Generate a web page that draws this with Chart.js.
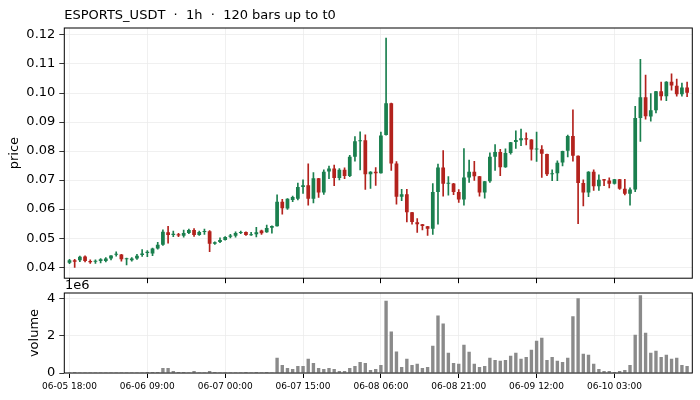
<!DOCTYPE html>
<html>
<head>
<meta charset="utf-8">
<title>ESPORTS_USDT 1h</title>
<script src="https://cdn.jsdelivr.net/npm/chart.js@4.4.1/dist/chart.umd.min.js"></script>
<style>
body { margin: 0; background: #fff; }
#wrap { position: relative; width: 700px; height: 400px; }
canvas { position: absolute; left: 0; }
#priceCanvas { top: 0; }
#volCanvas { top: 270px; }
</style>
</head>
<body>
<div id="wrap">
<canvas id="priceCanvas" width="700" height="290"></canvas>
<canvas id="volCanvas" width="700" height="130"></canvas>
</div>
<script>
var chartTitle = "ESPORTS_USDT  \u00b7  1h  \u00b7  120 bars up to t0";

// x ticks every 15 bars
var xTickPos = [0, 15, 30, 45, 60, 75, 90, 105];
var xTickLabels = ["06-05 18:00", "06-06 09:00", "06-07 00:00", "06-07 15:00",
                   "06-08 06:00", "06-08 21:00", "06-09 12:00", "06-10 03:00"];
var priceTicks = [0.04, 0.05, 0.06, 0.07, 0.08, 0.09, 0.10, 0.11, 0.12];
var volTicks = [0, 2e6, 4e6];

var opens = [
  0.0415, 0.0424, 0.0424, 0.0437, 0.0421, 0.0419, 0.0421, 0.0421, 0.0430, 0.0443,
  0.0444, 0.0427, 0.0424, 0.0430, 0.0442, 0.0449, 0.0447, 0.0464, 0.0477, 0.0520,
  0.0511, 0.0513, 0.0508, 0.0518, 0.0528, 0.0511, 0.0521, 0.0524, 0.0481, 0.0487,
  0.0494, 0.0505, 0.0508, 0.0518, 0.0521, 0.0510, 0.0513, 0.0526, 0.0520, 0.0536,
  0.0541, 0.0625, 0.0602, 0.0631, 0.0636, 0.0676, 0.0682, 0.0636, 0.0706, 0.0657,
  0.0730, 0.0740, 0.0707, 0.0736, 0.0714, 0.0780, 0.0834, 0.0837, 0.0720, 0.0729,
  0.0724, 0.0855, 0.0965, 0.0757, 0.0643, 0.0651, 0.0589, 0.0555, 0.0548, 0.0541,
  0.0532, 0.0659, 0.0743, 0.0687, 0.0688, 0.0659, 0.0633, 0.0709, 0.0729, 0.0713,
  0.0657, 0.0696, 0.0780, 0.0797, 0.0744, 0.0793, 0.0831, 0.0837, 0.0844, 0.0840,
  0.0805, 0.0806, 0.0790, 0.0720, 0.0724, 0.0761, 0.0801, 0.0852, 0.0784, 0.0690,
  0.0657, 0.0729, 0.0679, 0.0703, 0.0699, 0.0687, 0.0703, 0.0670, 0.0653, 0.0668,
  0.0914, 0.0985, 0.0919, 0.0941, 0.1006, 0.0989, 0.1039, 0.1025, 0.0996, 0.1019
];
var highs = [
  0.0427, 0.0427, 0.0438, 0.0439, 0.0425, 0.0425, 0.0430, 0.0433, 0.0440, 0.0453,
  0.0444, 0.0431, 0.0433, 0.0444, 0.0461, 0.0457, 0.0466, 0.0486, 0.0529, 0.0541,
  0.0524, 0.0517, 0.0528, 0.0531, 0.0533, 0.0524, 0.0531, 0.0526, 0.0487, 0.0501,
  0.0505, 0.0513, 0.0522, 0.0524, 0.0522, 0.0520, 0.0537, 0.0528, 0.0545, 0.0542,
  0.0649, 0.0634, 0.0636, 0.0645, 0.0690, 0.0701, 0.0756, 0.0726, 0.0706, 0.0735,
  0.0748, 0.0752, 0.0740, 0.0742, 0.0785, 0.0850, 0.0866, 0.0856, 0.0729, 0.0743,
  0.0865, 0.1189, 0.0965, 0.0764, 0.0668, 0.0668, 0.0589, 0.0567, 0.0548, 0.0541,
  0.0688, 0.0755, 0.0802, 0.0712, 0.0689, 0.0667, 0.0809, 0.0769, 0.0765, 0.0713,
  0.0696, 0.0794, 0.0822, 0.0806, 0.0808, 0.0830, 0.0870, 0.0876, 0.0863, 0.0840,
  0.0865, 0.0819, 0.0790, 0.0735, 0.0766, 0.0800, 0.0855, 0.0942, 0.0784, 0.0701,
  0.0729, 0.0735, 0.0718, 0.0703, 0.0708, 0.0703, 0.0703, 0.0703, 0.0673, 0.0954,
  0.1116, 0.1062, 0.0998, 0.1006, 0.1038, 0.1039, 0.1066, 0.1048, 0.1034, 0.1038
];
var lows = [
  0.0412, 0.0399, 0.0419, 0.0418, 0.0413, 0.0413, 0.0415, 0.0418, 0.0425, 0.0438,
  0.0421, 0.0408, 0.0421, 0.0427, 0.0437, 0.0436, 0.0440, 0.0462, 0.0475, 0.0483,
  0.0505, 0.0505, 0.0503, 0.0515, 0.0506, 0.0509, 0.0513, 0.0453, 0.0478, 0.0484,
  0.0493, 0.0501, 0.0503, 0.0515, 0.0509, 0.0509, 0.0504, 0.0513, 0.0520, 0.0517,
  0.0541, 0.0583, 0.0599, 0.0626, 0.0632, 0.0654, 0.0614, 0.0621, 0.0640, 0.0651,
  0.0705, 0.0681, 0.0701, 0.0705, 0.0712, 0.0765, 0.0735, 0.0668, 0.0671, 0.0682,
  0.0724, 0.0855, 0.0733, 0.0617, 0.0629, 0.0556, 0.0548, 0.0520, 0.0528, 0.0509,
  0.0513, 0.0548, 0.0645, 0.0648, 0.0650, 0.0623, 0.0614, 0.0692, 0.0699, 0.0645,
  0.0638, 0.0692, 0.0733, 0.0715, 0.0744, 0.0789, 0.0809, 0.0819, 0.0821, 0.0769,
  0.0764, 0.0709, 0.0715, 0.0698, 0.0698, 0.0749, 0.0780, 0.0765, 0.0550, 0.0611,
  0.0643, 0.0664, 0.0664, 0.0681, 0.0673, 0.0686, 0.0668, 0.0649, 0.0614, 0.0660,
  0.0833, 0.0910, 0.0903, 0.0931, 0.0975, 0.0974, 0.1010, 0.0989, 0.0989, 0.0987
];
var closes = [
  0.0424, 0.0419, 0.0436, 0.0421, 0.0417, 0.0421, 0.0427, 0.0430, 0.0440, 0.0446,
  0.0427, 0.0430, 0.0430, 0.0439, 0.0447, 0.0453, 0.0464, 0.0477, 0.0522, 0.0511,
  0.0515, 0.0509, 0.0518, 0.0528, 0.0511, 0.0521, 0.0524, 0.0481, 0.0486, 0.0494,
  0.0504, 0.0509, 0.0518, 0.0521, 0.0511, 0.0513, 0.0520, 0.0517, 0.0535, 0.0542,
  0.0625, 0.0603, 0.0636, 0.0642, 0.0676, 0.0682, 0.0636, 0.0706, 0.0657, 0.0729,
  0.0740, 0.0707, 0.0736, 0.0714, 0.0780, 0.0834, 0.0837, 0.0720, 0.0729, 0.0724,
  0.0854, 0.0965, 0.0757, 0.0643, 0.0651, 0.0589, 0.0556, 0.0548, 0.0542, 0.0532,
  0.0659, 0.0743, 0.0687, 0.0689, 0.0659, 0.0633, 0.0709, 0.0729, 0.0713, 0.0657,
  0.0696, 0.0780, 0.0797, 0.0744, 0.0793, 0.0830, 0.0838, 0.0844, 0.0840, 0.0805,
  0.0808, 0.0791, 0.0720, 0.0724, 0.0760, 0.0800, 0.0852, 0.0784, 0.0690, 0.0657,
  0.0729, 0.0679, 0.0701, 0.0699, 0.0687, 0.0703, 0.0670, 0.0653, 0.0668, 0.0914,
  0.0985, 0.0920, 0.0941, 0.1006, 0.0989, 0.1039, 0.1026, 0.0996, 0.1019, 0.1001
];
var volumes = [
  0.01e6, 0.05e6, 0.01e6, 0.04e6, 0.01e6, 0.01e6, 0.01e6, 0.01e6, 0.01e6, 0.04e6,
  0.04e6, 0.01e6, 0.01e6, 0.01e6, 0.04e6, 0.05e6, 0.05e6, 0.05e6, 0.27e6, 0.27e6,
  0.11e6, 0.05e6, 0.05e6, 0.01e6, 0.11e6, 0.01e6, 0.01e6, 0.11e6, 0.05e6, 0.01e6,
  0.01e6, 0.01e6, 0.01e6, 0.01e6, 0.05e6, 0.01e6, 0.05e6, 0.01e6, 0.05e6, 0.01e6,
  0.81e6, 0.43e6, 0.27e6, 0.22e6, 0.38e6, 0.38e6, 0.76e6, 0.54e6, 0.27e6, 0.22e6,
  0.27e6, 0.22e6, 0.11e6, 0.11e6, 0.27e6, 0.38e6, 0.59e6, 0.54e6, 0.16e6, 0.22e6,
  0.43e6, 3.86e6, 2.22e6, 1.15e6, 0.32e6, 0.76e6, 0.43e6, 0.49e6, 0.27e6, 0.32e6,
  1.46e6, 3.08e6, 2.65e6, 1.08e6, 0.54e6, 0.49e6, 1.51e6, 1.14e6, 0.49e6, 0.32e6,
  0.38e6, 0.81e6, 0.70e6, 0.65e6, 0.70e6, 0.92e6, 1.08e6, 0.76e6, 0.86e6, 1.24e6,
  1.73e6, 1.89e6, 0.70e6, 0.86e6, 0.65e6, 0.59e6, 0.81e6, 3.03e6, 4.00e6, 1.03e6,
  0.97e6, 0.49e6, 0.22e6, 0.11e6, 0.11e6, 0.05e6, 0.11e6, 0.16e6, 0.43e6, 2.05e6,
  4.16e6, 2.16e6, 1.08e6, 1.19e6, 0.86e6, 0.97e6, 0.76e6, 0.81e6, 0.43e6, 0.38e6
];

var GREEN = "#1a7f4e";
var RED = "#b3221d";
var VOLCOLOR = "#8a8a8a";
var GRIDCOLOR = "#ececec";
var FONT = "'DejaVu Sans', sans-serif";

Chart.defaults.font.family = FONT;
Chart.defaults.color = "#000";

function candleColor(ctx) {
    var i = ctx.dataIndex;
    return closes[i] >= opens[i] ? GREEN : RED;
}

function xScale(showLabels, height) {
    return {
        type: "linear", min: -1, max: 120, offset: false,
        grid: { color: GRIDCOLOR, lineWidth: 0.8, offset: false, tickColor: "#000", tickLength: 5, tickWidth: 1 },
        border: { display: false },
        ticks: {
            display: showLabels, autoSkip: false, maxRotation: 0, padding: 3, font: { size: 9 },
            callback: function(v) {
                var k = xTickPos.indexOf(v);
                return k < 0 ? "" : xTickLabels[k];
            }
        },
        afterBuildTicks: function(scale) { scale.ticks = xTickPos.map(function(v) { return { value: v }; }); },
        afterFit: function(scale) { scale.height = height; }
    };
}

// black box round the plot area, like the reference panels
var framePlugin = {
    id: "frame",
    afterDraw: function(chart) {
        var a = chart.chartArea, c = chart.ctx;
        c.save();
        c.strokeStyle = "#000";
        c.lineWidth = 1;
        c.strokeRect(a.left, a.top, a.right - a.left, a.bottom - a.top);
        c.restore();
    }
};

function textPlugin(text, x, y) {
    return {
        id: "label_" + text.length,
        afterDraw: function(chart) {
            var c = chart.ctx;
            c.save();
            c.font = "13px " + FONT;
            c.fillStyle = "#000";
            c.textBaseline = "alphabetic";
            c.textAlign = "left";
            c.fillText(text, x, y);
            c.restore();
        }
    };
}

var idx = opens.map(function(v, i) { return i; });

var priceConfig = {
    type: "bar",
    data: {
        datasets: [{
            label: "wick",
            data: idx.map(function(i) { return { x: i, y: [lows[i], highs[i]] }; }),
            backgroundColor: candleColor,
            barThickness: 1,
            grouped: false,
            order: 2
        }, {
            label: "body",
            data: idx.map(function(i) { return { x: i, y: [opens[i], closes[i]] }; }),
            backgroundColor: candleColor,
            categoryPercentage: 1,
            barPercentage: 0.72,
            minBarLength: 1,
            grouped: false,
            order: 1
        }]
    },
    options: {
        responsive: false,
        animation: false,
        events: [],
        layout: { padding: { left: 0, right: 7.7, top: 28, bottom: 0 } },
        plugins: { legend: { display: false }, tooltip: { enabled: false } },
        scales: {
            x: xScale(false, 5.5),
            y: {
                min: 0.0362, max: 0.1224,
                grid: { color: GRIDCOLOR, lineWidth: 0.8, tickColor: "#000", tickLength: 5 },
                border: { display: false },
                ticks: { font: { size: 13 }, padding: 4, callback: function(v) { return v.toFixed(2); } },
                afterBuildTicks: function(scale) { scale.ticks = priceTicks.map(function(v) { return { value: v }; }); },
                afterFit: function(scale) { scale.width = 64.3; },
                title: { display: true, text: "price", font: { size: 13 }, padding: { top: 7, bottom: 0 } }
            }
        }
    },
    plugins: [framePlugin, textPlugin(chartTitle, 64.3, 19)]
};

var volConfig = {
    type: "bar",
    data: {
        datasets: [{
            label: "volume",
            data: idx.map(function(i) { return { x: i, y: volumes[i] }; }),
            backgroundColor: VOLCOLOR,
            categoryPercentage: 1,
            barPercentage: 0.65
        }]
    },
    options: {
        responsive: false,
        animation: false,
        events: [],
        layout: { padding: { left: 0, right: 7.7, top: 23, bottom: 0 } },
        plugins: { legend: { display: false }, tooltip: { enabled: false } },
        scales: {
            x: xScale(true, 27),
            y: {
                min: 0, max: 4.28e6,
                grid: { color: GRIDCOLOR, lineWidth: 0.8, tickColor: "#000", tickLength: 5 },
                border: { display: false },
                ticks: { font: { size: 13 }, padding: 4, callback: function(v) { return String(v / 1e6); } },
                afterBuildTicks: function(scale) { scale.ticks = volTicks.map(function(v) { return { value: v }; }); },
                afterFit: function(scale) { scale.width = 64.3; },
                title: { display: true, text: "volume", font: { size: 13 }, padding: { top: 27, bottom: 0 } }
            }
        }
    },
    plugins: [framePlugin, textPlugin("1e6", 65, 19)]
};

window.priceChart = new Chart(document.getElementById("priceCanvas"), priceConfig);
window.volChart = new Chart(document.getElementById("volCanvas"), volConfig);
</script>
</body>
</html>
